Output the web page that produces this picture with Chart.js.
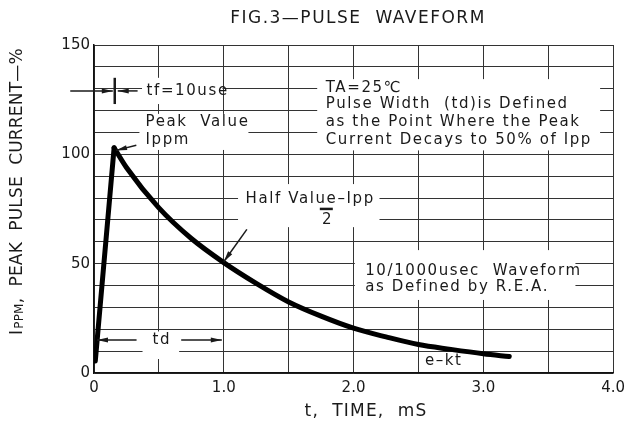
<!DOCTYPE html>
<html>
<head>
<meta charset="utf-8">
<script src="https://cdn.jsdelivr.net/npm/chart.js@4.4.1/dist/chart.umd.min.js"></script>
<style>
  html, body { margin: 0; padding: 0; background: #fff; }
  #wrap { width: 631px; height: 431px; }
</style>
</head>
<body>
<div id="wrap"><canvas id="pulseChart" width="631" height="431"></canvas></div>
<script>
// rise of the pulse (straight front)
const riseX = [0.01, 0.155];
const riseY = [5.5, 103];
// decay of the pulse
const decayX = [0.155, 0.25, 0.5, 0.75, 1.0, 1.25, 1.5, 1.75, 2.0, 2.25, 2.5, 2.75, 3.0, 3.2];
const decayY = [103, 94, 75.5, 61.5, 50.5, 41, 32.5, 26, 20.5, 16.5, 13, 10.8, 8.8, 7.5];

const xTickLabels = { 0: '0', 1: '1.0', 2: '2.0', 3: '3.0', 4: '4.0' };
const yTickLabels = { 0: '0', 50: '50', 100: '100', 150: '150' };

const FONT = 'DejaVu Sans';
const INK = '#1a1a1a';

function toPoints(xs, ys) {
  return xs.map((x, i) => ({ x: x, y: ys[i] }));
}

// white boxes behind the notes (data units: x0, x1, y0, y1)
const boxes = [
  [0.37, 0.99, 123, 135],    // tf=10use
  [0.35, 1.19, 102, 118.5],  // Peak Value / Ippm
  [1.72, 3.90, 101.8, 134.4],// TA=25 block
  [1.11, 2.20, 66.7, 86.4],  // Half Value
  [2.01, 3.71, 33.4, 56.2],  // 10/1000usec
  [0.374, 0.656, 6.4, 19],   // td
  [2.53, 2.87, 0.8, 9.3]     // e-kt
];

const notes = [
  ['tf=10use', 0.405, 129],
  ['Peak  Value', 0.397, 114.8],
  ['Ippm', 0.397, 106.5],
  ['TA=25\u2103', 1.786, 130.5],
  ['Pulse Width  (td)is Defined', 1.786, 123],
  ['as the Point Where the Peak', 1.786, 114.8],
  ['Current Decays to 50% of Ipp', 1.786, 106.5],
  ['Half Value\u2013Ipp', 1.168, 79.6],
  ['10/1000usec  Waveform', 2.09, 46.4],
  ['as Defined by R.E.A.', 2.09, 39.2],
  ['td', 0.45, 15.1],
  ['e\u2013kt', 2.55, 5.3]
];

// arrows: from (x1,y1) to head at (x2,y2)
const arrows = [
  [-0.183, 129, 0.145, 129],
  [0.336, 129, 0.183, 129],
  [0.326, 104.2, 0.17, 101.8],
  [1.178, 65.7, 1.0, 50.9],
  [0.328, 15.1, 0.023, 15.1],
  [0.672, 15.1, 0.985, 15.1]
];

const annotate = {
  id: 'annotate',
  beforeDatasetsDraw(chart) {
    const { ctx, scales: { x, y } } = chart;
    ctx.save();
    ctx.fillStyle = '#fff';
    boxes.forEach(b => {
      const l = x.getPixelForValue(b[0]), r = x.getPixelForValue(b[1]);
      const t = y.getPixelForValue(b[3]), btm = y.getPixelForValue(b[2]);
      ctx.fillRect(l, t, r - l, btm - t);
    });
    ctx.restore();
  },
  afterDatasetsDraw(chart) {
    const { ctx, scales: { x, y } } = chart;
    ctx.save();
    ctx.fillStyle = INK;
    ctx.strokeStyle = INK;
    ctx.font = '15px "' + FONT + '"';
    ctx.letterSpacing = '1.6px';
    ctx.textBaseline = 'middle';
    ctx.textAlign = 'left';
    notes.forEach(n => {
      ctx.fillText(n[0], x.getPixelForValue(n[1]), y.getPixelForValue(n[2]));
    });
    // "2" under Ipp with its bar
    const twoX = x.getPixelForValue(1.794), twoY = y.getPixelForValue(70);
    ctx.letterSpacing = '0px';
    ctx.textAlign = 'center';
    ctx.fillText('2', twoX, twoY);
    ctx.lineWidth = 2.5;
    ctx.beginPath();
    ctx.moveTo(twoX - 7, twoY - 11);
    ctx.lineTo(twoX + 6, twoY - 11);
    ctx.stroke();

    // tf marker tick
    const tx = x.getPixelForValue(0.16);
    ctx.lineWidth = 2.5;
    ctx.beginPath();
    ctx.moveTo(tx, y.getPixelForValue(135));
    ctx.lineTo(tx, y.getPixelForValue(123));
    ctx.stroke();

    ctx.lineWidth = 1.5;
    arrows.forEach(a => {
      const x1 = x.getPixelForValue(a[0]), y1 = y.getPixelForValue(a[1]);
      const x2 = x.getPixelForValue(a[2]), y2 = y.getPixelForValue(a[3]);
      const ang = Math.atan2(y2 - y1, x2 - x1);
      ctx.beginPath();
      ctx.moveTo(x1, y1);
      ctx.lineTo(x2, y2);
      ctx.stroke();
      ctx.beginPath();
      ctx.moveTo(x2, y2);
      ctx.lineTo(x2 - 11 * Math.cos(ang) + 2.5 * Math.sin(ang), y2 - 11 * Math.sin(ang) - 2.5 * Math.cos(ang));
      ctx.lineTo(x2 - 11 * Math.cos(ang) - 2.5 * Math.sin(ang), y2 - 11 * Math.sin(ang) + 2.5 * Math.cos(ang));
      ctx.closePath();
      ctx.fill();
    });

    // figure title and axis titles
    ctx.font = '17px "' + FONT + '"';
    ctx.letterSpacing = '1.5px';
    ctx.textAlign = 'center';
    ctx.fillText('FIG.3\u2014PULSE  WAVEFORM', 358, 19);
    ctx.letterSpacing = '1.2px';
    ctx.fillText('t,  TIME,  mS', 366, 412);

    // y title, rotated, with small PPM
    ctx.translate(18, 335);
    ctx.rotate(-Math.PI / 2);
    ctx.textAlign = 'left';
    ctx.letterSpacing = '0.2px';
    let cx = 0;
    ctx.font = '17px "' + FONT + '"';
    ctx.fillText('I', cx, 0);
    cx += ctx.measureText('I').width + 1;
    ctx.font = '12px "' + FONT + '"';
    ctx.fillText('PPM', cx, 2);
    cx += ctx.measureText('PPM').width;
    ctx.font = '17px "' + FONT + '"';
    ctx.fillText(',  PEAK  PULSE  CURRENT\u2014%', cx, 0);
    ctx.restore();
  }
};

const lineStyle = {
  borderColor: '#000',
  borderWidth: 5,
  pointRadius: 0,
  fill: false,
  borderCapStyle: 'round',
  borderJoinStyle: 'round'
};

new Chart(document.getElementById('pulseChart').getContext('2d'), {
  type: 'line',
  data: {
    datasets: [
      Object.assign({ label: 'rise', data: toPoints(riseX, riseY), tension: 0 }, lineStyle),
      Object.assign({ label: 'decay', data: toPoints(decayX, decayY), cubicInterpolationMode: 'monotone' }, lineStyle)
    ]
  },
  options: {
    responsive: false,
    animation: false,
    layout: { padding: { top: 45, right: 13, left: 0, bottom: 0 } },
    plugins: {
      legend: { display: false },
      tooltip: { enabled: false }
    },
    scales: {
      x: {
        type: 'linear',
        min: 0,
        max: 4,
        afterFit: s => { s.height = 58; },
        ticks: {
          stepSize: 0.5,
          autoSkip: false,
          maxRotation: 0,
          padding: 6,
          color: INK,
          font: { family: FONT, size: 15 },
          callback: v => (xTickLabels[v] !== undefined ? xTickLabels[v] : '')
        },
        grid: { color: '#333', lineWidth: 1, drawTicks: false },
        border: { color: '#111', width: 1.5 }
      },
      y: {
        min: 0,
        max: 150,
        afterFit: s => { s.width = 94; },
        ticks: {
          stepSize: 10,
          autoSkip: false,
          padding: 4,
          color: INK,
          font: { family: FONT, size: 15 },
          callback: v => (yTickLabels[v] !== undefined ? yTickLabels[v] : '')
        },
        grid: { color: '#333', lineWidth: 1, drawTicks: false },
        border: { color: '#111', width: 1.5 }
      }
    }
  },
  plugins: [annotate]
});
</script>
</body>
</html>
